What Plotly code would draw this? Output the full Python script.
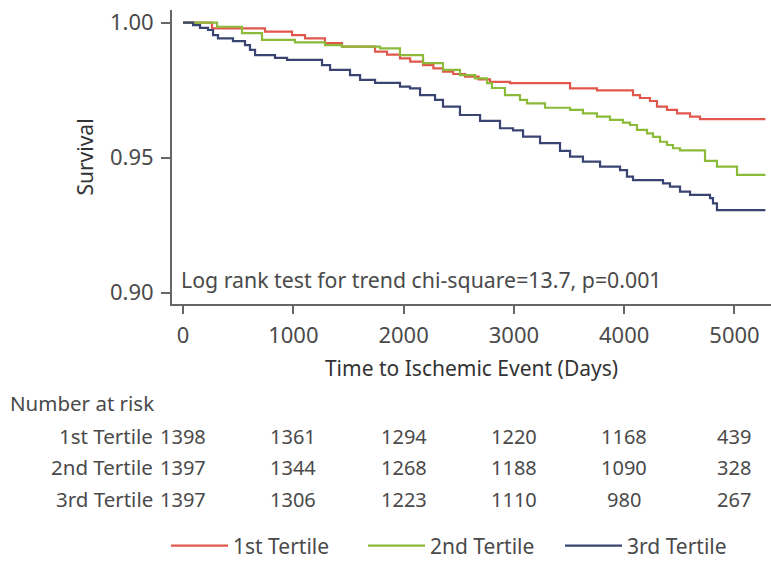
import plotly.graph_objects as go

# ---- data ----
t_1st = [0, 263, 743, 988, 1106, 1287, 1441, 1741, 1850, 1967, 2060, 2176, 2270, 2357, 2450, 2557, 2680, 2783,
         2965, 3509, 3753, 4080, 4143, 4234, 4297, 4388, 4479, 4597, 4687, 5280]
s_1st = [1.0, 0.9979, 0.9967, 0.9954, 0.9942, 0.9924, 0.9911, 0.9893, 0.9882, 0.9868, 0.9856, 0.9843, 0.9831,
         0.9819, 0.9810, 0.9800, 0.9790, 0.9781, 0.9776, 0.9757, 0.9749, 0.9732, 0.9721, 0.9710, 0.9689, 0.9677,
         0.9664, 0.9652, 0.9643, 0.9643]

t_2nd = [0, 308, 535, 716, 1015, 1287, 1441, 1786, 1967, 2176, 2357, 2511, 2647, 2756, 2801, 2919, 3055, 3119,
         3282, 3509, 3626, 3753, 3871, 3989, 4053, 4116, 4207, 4261, 4325, 4388, 4442, 4506, 4733, 4841, 5023, 5280]
s_2nd = [1.0, 0.9985, 0.9961, 0.9936, 0.9927, 0.9917, 0.9911, 0.9905, 0.9880, 0.9850, 0.9825, 0.9806, 0.9794,
         0.9776, 0.9758, 0.9732, 0.9714, 0.9701, 0.9685, 0.9677, 0.9664, 0.9652, 0.9640, 0.9630, 0.9621, 0.9603,
         0.9590, 0.9577, 0.9559, 0.9547, 0.9535, 0.9527, 0.9488, 0.9467, 0.9436, 0.9436]

t_3rd = [0, 91, 154, 227, 272, 317, 453, 562, 607, 653, 834, 943, 1260, 1333, 1514, 1605, 1741, 1967, 2058, 2149,
         2285, 2357, 2511, 2693, 2874, 2992, 3083, 3237, 3418, 3509, 3626, 3781, 3962, 4025, 4080, 4352, 4415,
         4506, 4597, 4778, 4805, 4841, 5280]
s_3rd = [1.0, 0.9991, 0.9981, 0.9973, 0.9954, 0.9942, 0.9932, 0.9917, 0.9899, 0.9880, 0.9870, 0.9862, 0.9843,
         0.9825, 0.9806, 0.9788, 0.9777, 0.9763, 0.9757, 0.9732, 0.9714, 0.9689, 0.9658, 0.9636, 0.9609, 0.9601,
         0.9578, 0.9554, 0.9525, 0.9504, 0.9485, 0.9467, 0.9454, 0.9430, 0.9417, 0.9405, 0.9393, 0.9374, 0.9362,
         0.9350, 0.9331, 0.9306, 0.9306]

series_names = ["1st Tertile", "2nd Tertile", "3rd Tertile"]
series_colors = ["#E0584C", "#8CBB3A", "#3A4472"]

x_ticks = [0, 1000, 2000, 3000, 4000, 5000]
y_ticks = [0.90, 0.95, 1.00]
y_tick_text = ["0.90", "0.95", "1.00"]

risk_1st = [1398, 1361, 1294, 1220, 1168, 439]
risk_2nd = [1397, 1344, 1268, 1188, 1090, 328]
risk_3rd = [1397, 1306, 1223, 1110, 980, 267]

stat_text = "Log rank test for trend chi-square=13.7, p=0.001"

# ---- figure ----
FONT = "Noto Sans, DejaVu Sans, sans-serif"
TXT = "#4a4a4a"

fig = go.Figure()
for t, s, name, col in zip([t_1st, t_2nd, t_3rd], [s_1st, s_2nd, s_3rd], series_names, series_colors):
    fig.add_trace(go.Scatter(x=t, y=s, mode="lines", name=name, line=dict(color=col, width=2.2, shape="hv")))

W, H = 771, 564
ML, MR, MT, MB = 172, 0, 10, 260
plot_h = H - MT - MB


def py(px_y):
    return (H - MB - px_y) / plot_h


annotations = [
    dict(text=stat_text, x=0, xref="x", xanchor="left", y=0.9048, yref="y", yanchor="middle",
         showarrow=False, font=dict(size=21.3, color=TXT, family=FONT), xshift=-4),
    dict(text="Number at risk", x=-0.274, xref="paper", xanchor="left", y=py(403), yref="paper",
         yanchor="middle", showarrow=False, font=dict(size=20.5, color=TXT, family=FONT)),
]
row_y = [436, 467, 499]
for name, risk, ry in zip(series_names, [risk_1st, risk_2nd, risk_3rd], row_y):
    annotations.append(dict(text=name, x=-0.028, xref="paper", xanchor="right", y=py(ry), yref="paper",
                            yanchor="middle", showarrow=False, font=dict(size=20.5, color=TXT, family=FONT)))
    for xv, n in zip(x_ticks, risk):
        annotations.append(dict(text=str(n), x=xv, xref="x", xanchor="center", y=py(ry), yref="paper",
                                yanchor="middle", showarrow=False, font=dict(size=20, color=TXT, family=FONT)))

fig.update_layout(
    width=W, height=H,
    margin=dict(l=ML, r=MR, t=MT, b=MB, pad=0, autoexpand=False),
    paper_bgcolor="white", plot_bgcolor="white",
    font=dict(family=FONT, color=TXT, size=18),
    showlegend=True,
    legend=dict(orientation="h", x=-0.01, xanchor="left", y=py(546), yanchor="middle",
                font=dict(size=21, color=TXT, family=FONT), itemwidth=57, entrywidth=125,
                bgcolor="rgba(0,0,0,0)", tracegroupgap=0),
    xaxis=dict(range=[-100, 5331], tickvals=x_ticks, ticks="outside", ticklen=8, tickwidth=2,
               tickcolor="#666", showline=True, linecolor="#666", linewidth=2, showgrid=False,
               zeroline=False, tickfont=dict(size=22, color=TXT, family=FONT), ticklabelstandoff=3,
               title=dict(text="Time to Ischemic Event (Days)", font=dict(size=21, color="#333", family=FONT),
                          standoff=13)),
    yaxis=dict(range=[0.8958, 1.0047], tickvals=y_ticks, ticktext=y_tick_text, ticks="outside", ticklen=9,
               tickwidth=2, tickcolor="#666", showline=True, linecolor="#666", linewidth=2, showgrid=False,
               zeroline=False, tickfont=dict(size=22, color=TXT, family=FONT), ticklabelstandoff=3,
               title=dict(text="Survival", font=dict(size=21, color="#333", family=FONT), standoff=11)),
    annotations=annotations,
)

fig.write_html("out.html")
